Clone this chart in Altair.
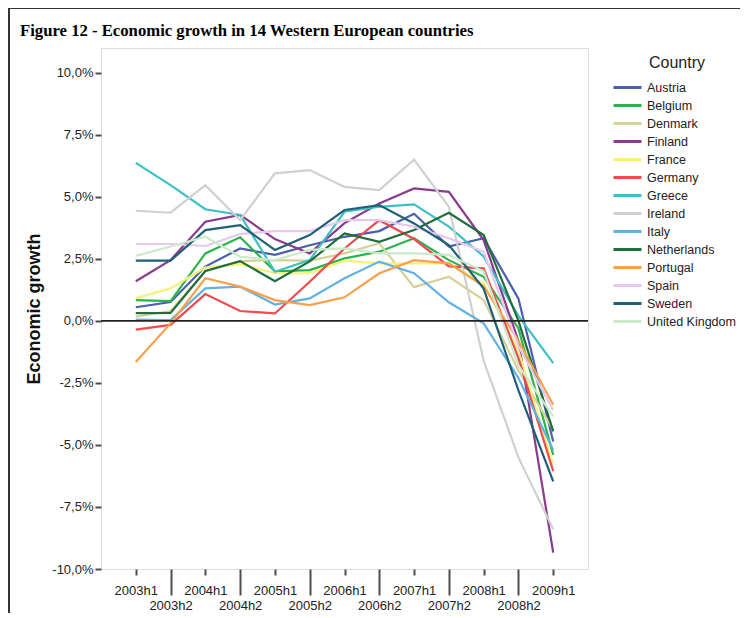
import altair as alt
import pandas as pd

periods = ["2003h1", "2003h2", "2004h1", "2004h2", "2005h1", "2005h2", "2006h1",
           "2006h2", "2007h1", "2007h2", "2008h1", "2008h2", "2009h1"]

austria = [0.55, 0.76, 2.19, 2.92, 2.66, 3.05, 3.39, 3.62, 4.32, 3.00, 3.33, 0.90, -4.86]
belgium = [0.84, 0.80, 2.72, 3.37, 2.00, 2.05, 2.52, 2.79, 3.33, 2.45, 1.78, -0.30, -5.40]
denmark = [0.17, 0.40, 2.00, 2.41, 2.45, 2.43, 2.72, 3.13, 1.36, 1.78, 0.84, -2.00, -4.40]
finland = [1.60, 2.45, 4.00, 4.27, 3.30, 2.72, 3.94, 4.73, 5.34, 5.20, 3.26, -0.80, -9.34]
france = [0.92, 1.31, 2.15, 2.29, 1.92, 1.92, 2.43, 2.32, 2.32, 2.32, 1.50, -1.20, -5.80]
germany = [-0.35, -0.16, 1.08, 0.40, 0.30, 1.58, 2.92, 4.06, 3.30, 2.20, 2.12, -1.50, -6.06]
greece = [6.37, 5.47, 4.50, 4.27, 1.98, 2.45, 4.40, 4.60, 4.70, 3.80, 2.60, 0.20, -1.70]
ireland = [4.44, 4.36, 5.47, 4.06, 5.95, 6.08, 5.40, 5.27, 6.50, 4.60, -1.60, -5.50, -8.40]
italy = [0.05, 0.03, 1.31, 1.38, 0.66, 0.91, 1.72, 2.39, 1.92, 0.75, -0.10, -2.30, -5.20]
netherlands = [0.31, 0.32, 2.01, 2.41, 1.60, 2.40, 3.53, 3.19, 3.66, 4.36, 3.46, 0.00, -4.45]
portugal = [-1.66, -0.10, 1.72, 1.38, 0.84, 0.64, 0.95, 1.92, 2.45, 2.32, 1.40, -0.80, -3.38]
spain = [3.10, 3.10, 3.02, 3.50, 3.62, 3.62, 4.06, 4.06, 3.80, 3.33, 2.79, -1.00, -3.60]
sweden = [2.43, 2.43, 3.66, 3.86, 2.86, 3.46, 4.47, 4.67, 3.93, 3.06, 1.30, -2.80, -6.47]
united_kingdom = [2.62, 3.00, 3.39, 2.59, 2.45, 2.86, 2.92, 2.72, 2.72, 2.66, 2.00, -1.80, -3.85]

countries = ["Austria", "Belgium", "Denmark", "Finland", "France", "Germany", "Greece",
             "Ireland", "Italy", "Netherlands", "Portugal", "Spain", "Sweden", "United Kingdom"]
series = [austria, belgium, denmark, finland, france, germany, greece,
          ireland, italy, netherlands, portugal, spain, sweden, united_kingdom]
colors = ["#4a5fae", "#2db34c", "#d6d19a", "#8a3a8f", "#f5f27a", "#ee4b4f", "#3dbfc4",
          "#d0d0d0", "#63b1e2", "#1f6e3c", "#f8a04a", "#e6c8ec", "#1f6078", "#cde9cc"]
y_ticks = [-10, -7.5, -5, -2.5, 0, 2.5, 5, 7.5, 10]

rows = []
for c, vals in zip(countries, series):
    for p, v in zip(periods, vals):
        rows.append({"Country": c, "period": p, "growth": v})
df = pd.DataFrame(rows)

W, H = 487, 521
FRAME = "#4d4d4d"
is_h2 = "indexof(datum.value, 'h2') >= 0"

x_enc = alt.X(
    "period:O",
    scale=alt.Scale(type="point", domain=periods, padding=1.25),
    axis=alt.Axis(
        title=None, labelAngle=0, domain=False, grid=False,
        tickColor=FRAME, tickWidth=2,
        tickSize={"condition": {"test": is_h2, "value": 26}, "value": 6},
        labelPadding={"condition": {"test": is_h2, "value": 4}, "value": 9},
        labelBaseline="top", labelFont="Liberation Sans", labelFontSize=13,
        labelColor="#222222",
    ),
)
y_enc = alt.Y(
    "growth:Q",
    scale=alt.Scale(domain=[-10, 11], nice=False, zero=False),
    axis=alt.Axis(
        title="Economic growth", titleFont="Liberation Sans", titleFontSize=18,
        titleFontWeight="bold", titleColor="#111111", titlePadding=8,
        values=y_ticks, domain=False, grid=False,
        tickColor=FRAME, tickWidth=2, tickSize=6, labelPadding=2,
        labelFont="Liberation Sans", labelFontSize=13, labelColor="#222222",
        labelExpr="(datum.value < 0 ? '-' : '') + replace(format(abs(datum.value), '.1f'), '.', ',') + '%'",
    ),
)

lines = alt.Chart(df).mark_line(strokeWidth=2.2).encode(
    x=x_enc,
    y=y_enc,
    color=alt.Color(
        "Country:N",
        scale=alt.Scale(domain=countries, range=colors),
        legend=alt.Legend(
            title="Country", orient="none", legendX=518, legendY=7,
            titleFont="Liberation Sans", titleFontSize=16, titleFontWeight="normal",
            titleColor="#222222", titleAnchor="middle", titlePadding=8,
            labelFont="Liberation Sans", labelFontSize=12.5, labelColor="#222222",
            symbolType="M-2,0H2", symbolSize=196, symbolStrokeWidth=3,
            labelOffset=11, rowPadding=3,
        ),
    ),
    order=alt.Order("period:O"),
)

one = alt.Data(values=[{}])
zero_line = alt.Chart(one).mark_rule(color="#222222", strokeWidth=1.6).encode(y=alt.datum(0))

frame_top = alt.Chart(one).mark_rule(color="#333333", strokeWidth=2).encode(
    x=alt.value(-92), x2=alt.value(650), y=alt.value(-40)
)
frame_left = alt.Chart(one).mark_rule(color="#333333", strokeWidth=2).encode(
    x=alt.value(-92), y=alt.value(-40), y2=alt.value(570)
)

chart = alt.layer(lines, zero_line, frame_top, frame_left).properties(
    width=W, height=H,
    autosize=alt.AutoSizeParams(type="none"),
    padding={"left": 93, "top": 40, "right": 152, "bottom": 44},
    title=alt.TitleParams(
        "Figure 12 - Economic growth in 14 Western European countries",
        anchor="start", frame="group", dx=-81, dy=41, offset=8,
        font="Liberation Serif", fontSize=16.7, fontWeight="bold", color="#000000",
    ),
).configure_view(stroke=FRAME, strokeWidth=2.5).configure(background="white")

chart.save("out.html", embed_options={"renderer": "svg", "actions": False})
